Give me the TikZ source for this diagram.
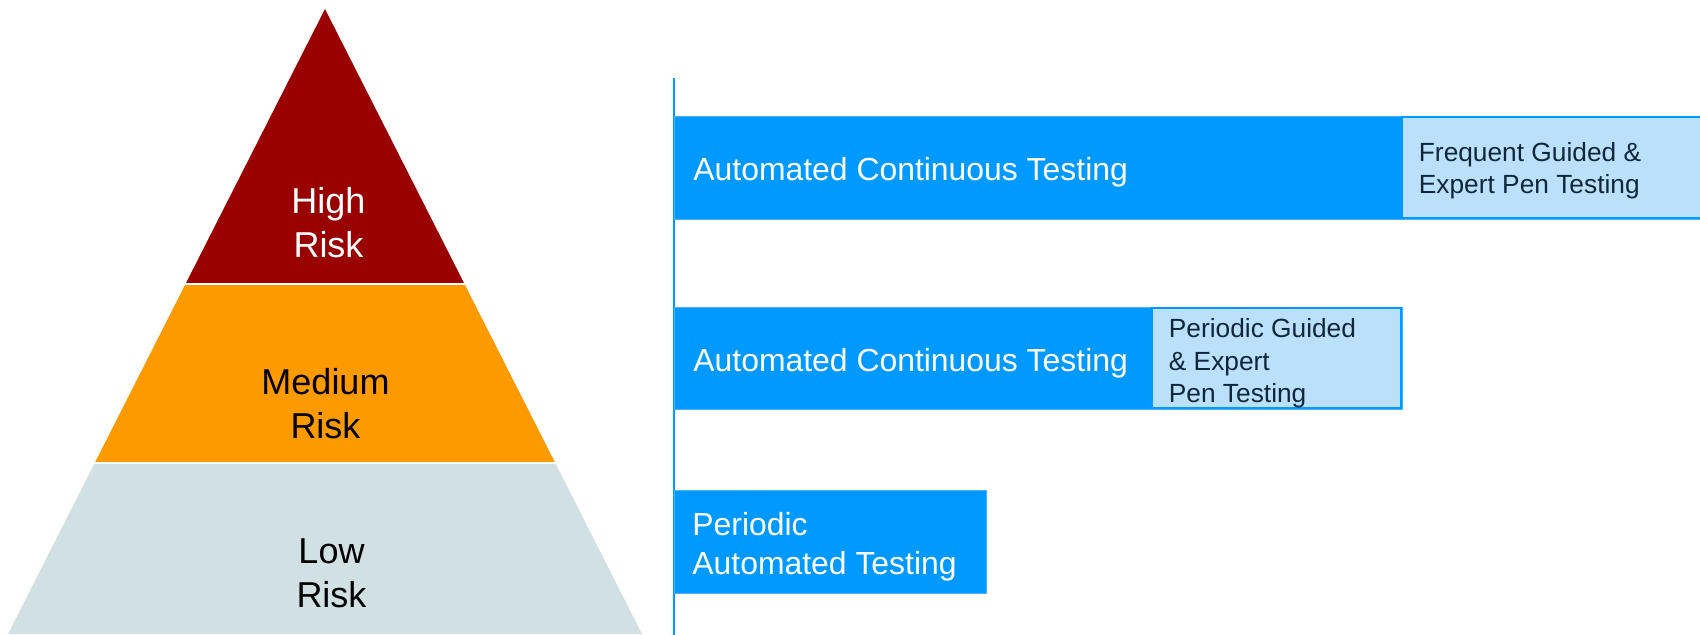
\documentclass[tikz,border=0pt]{standalone}
\usepackage{fontspec}
\setmainfont{Liberation Sans}
\definecolor{riskhigh}{RGB}{153,0,0}
\definecolor{riskmed}{RGB}{252,154,0}
\definecolor{risklow}{RGB}{208,224,227}
\definecolor{testblue}{RGB}{0,153,255}
\definecolor{testedge}{RGB}{70,178,255}
\definecolor{testlight}{RGB}{187,225,250}
\definecolor{testink}{RGB}{16,38,59}
\newcommand{\riskfont}{\fontsize{18}{22}\selectfont}
\newcommand{\barfont}{\fontsize{15.95}{19.15}\selectfont}
\newcommand{\penfont}{\fontsize{13.15}{16.2}\selectfont}

\begin{document}
\begin{tikzpicture}[x=0.5pt,y=-0.5pt,
  risklabel/.style={anchor=north, inner sep=0pt, align=center, font=\riskfont},
  barlabel/.style={anchor=north west, inner sep=0pt, align=left, text=white, font=\barfont},
  penlabel/.style={anchor=north west, inner sep=0pt, align=left, text=testink, font=\penfont},
  testbar/.style={fill=testblue, draw=testedge, line width=0.5pt},
  penbox/.style={fill=testlight, draw=testblue, line width=1pt}]
\useasboundingbox (0,0) rectangle (1700,634);
\clip (0,0) rectangle (1700,634);
% pyramid
\fill[riskhigh] (325,9) -- (464.5,284) -- (185.5,284) -- cycle;
\fill[riskmed] (185.5,284) -- (464.5,284) -- (555.3,463) -- (94.7,463) -- cycle;
\fill[risklow] (94.7,463) -- (555.3,463) -- (642,634) -- (8,634) -- cycle;
\draw[white, line width=1pt] (150,284) -- (500,284);
\draw[white, line width=1pt] (60,463) -- (600,463);
\node[risklabel, text=white] (high) at (328.5,187.5) {High\\Risk};
\node[risklabel, text=black] (medium) at (325.5,367.5) {Medium\\Risk};
\node[risklabel, text=black] (low) at (331.5,538) {Low\\Risk};
% axis
\coordinate (axistop) at (674,78);
\coordinate (axisbot) at (674,640);
\draw[testblue, line width=1pt] (axistop) -- (axisbot);
% high risk row
\draw[testbar] (674,116) rectangle (1710,219);
\draw[penbox] (1402,117) rectangle (1710,218);
\node[barlabel] (cont1) at (693,156.7) {Automated Continuous Testing};
\node[penlabel] (pen1) at (1418.5,141.7) {Frequent Guided \&\\Expert Pen Testing};
% medium risk row
\draw[testbar] (674,307) rectangle (1402,409);
\draw[penbox] (1152,308) rectangle (1401,408);
\node[barlabel] (cont2) at (693,347.7) {Automated Continuous Testing};
\node[penlabel] (pen2) at (1168.5,318.3) {Periodic Guided\\\& Expert\\Pen Testing};
% low risk row
\draw[testbar] (674,490) rectangle (986,593);
\node[barlabel] (auto3) at (692,512.3) {Periodic\\Automated Testing};
\end{tikzpicture}
\end{document}
